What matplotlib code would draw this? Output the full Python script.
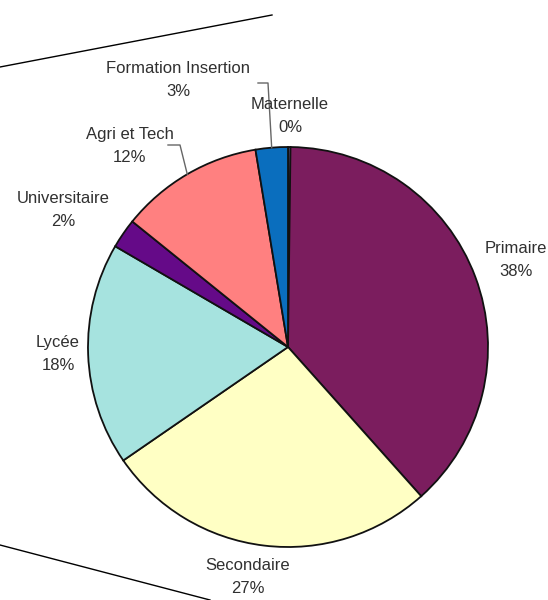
import numpy as np
import matplotlib
matplotlib.use("Agg")
import matplotlib.pyplot as plt
from matplotlib.lines import Line2D

# ---- data ----
categories = ["Maternelle", "Primaire", "Secondaire", "Lycée",
              "Universitaire", "Agri et Tech", "Formation Insertion"]
values = [0.2, 38.2, 27.0, 18.0, 2.4, 11.6, 2.6]
colors = ["#8C8CE6", "#7B1D5E", "#FFFFC4", "#A6E3DF",
          "#650A88", "#FF8080", "#0A6EBE"]

# ---- layout (label centres in pie units, radius = 1) ----
label_pos = [(0.01, 1.155), (1.14, 0.435), (-0.20, -1.15), (-1.15, -0.035),
             (-1.125, 0.685), (-0.79, 1.005), (-0.55, 1.335)]
# leader lines: (start x, start y, elbow x) for labels that have one
leaders = {5: (-0.60, 1.01, -0.54), 6: (-0.15, 1.32, -0.10)}

W, H = 548, 600
fig = plt.figure(figsize=(W / 100, H / 100), dpi=100)
fig.patch.set_facecolor("white")

cx, cy, R = 288, 347, 200
ax = fig.add_axes([(cx - R) / W, (H - cy - R) / H, 2 * R / W, 2 * R / H])
ax.set_xlim(-1, 1)
ax.set_ylim(-1, 1)
ax.axis("off")

wedges, _ = ax.pie(values, colors=colors, startangle=90, counterclock=False,
                   radius=1.0, center=(0, 0), frame=False,
                   wedgeprops=dict(edgecolor="#111111", linewidth=1.3))
ax.set_xlim(-1, 1)
ax.set_ylim(-1, 1)
ax.set_aspect("auto")

total = sum(values)
font = dict(family=["Liberation Sans", "DejaVu Sans"], fontsize=12,
            color="#303030")
for i, (cat, v) in enumerate(zip(categories, values)):
    pct = f"{round(v / total * 100):.0f}%"
    x, y = label_pos[i]
    ax.text(x, y, f"{cat}\n{pct}", ha="center", va="center",
            linespacing=1.7, clip_on=False, **font)

for i, (sx, sy, ex) in leaders.items():
    w = wedges[i]
    mid = np.deg2rad((w.theta1 + w.theta2) / 2)
    px, py = np.cos(mid), np.sin(mid)
    ax.add_line(Line2D([sx, ex, px], [sy, sy, py], color="#666666",
                       linewidth=1.0, clip_on=False))

# scanned page edges
fig.add_artist(Line2D([0 / W, 272 / W], [1 - 67 / H, 1 - 15 / H],
                      color="black", linewidth=1.0))
fig.add_artist(Line2D([0 / W, 210 / W], [1 - 545 / H, 1 - 600 / H],
                      color="black", linewidth=1.0))

fig.savefig("out.png", dpi=100, facecolor="white")
